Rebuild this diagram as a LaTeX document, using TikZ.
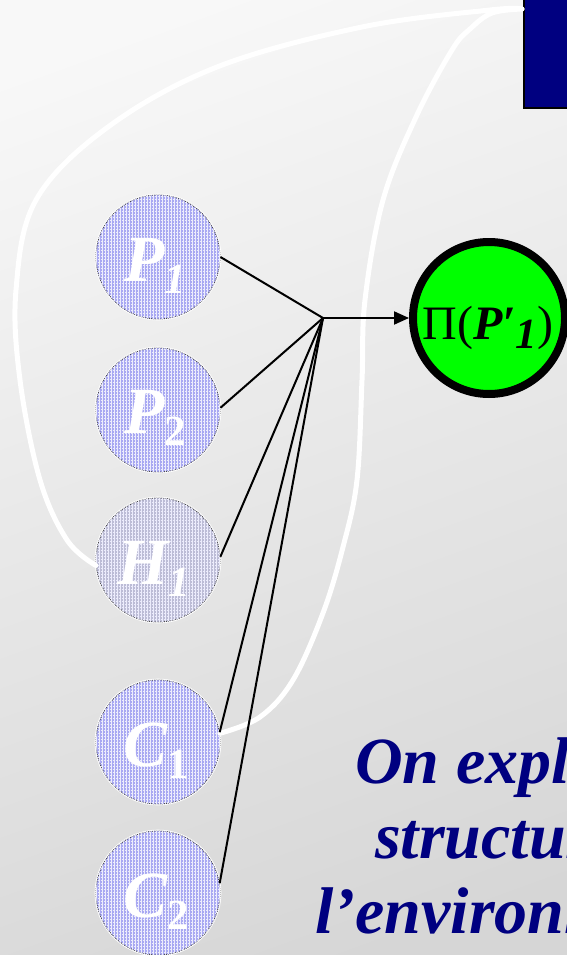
\documentclass[tikz,border=0pt]{standalone}
\usepackage{fontspec}
\setmainfont{Liberation Serif}
\usetikzlibrary{arrows.meta,patterns.meta}
\definecolor{navyc}{RGB}{0,0,128}
\definecolor{pfill}{RGB}{168,168,242}
\definecolor{hfill}{RGB}{188,188,214}
\definecolor{gridc}{RGB}{236,236,252}
\definecolor{gfill}{RGB}{0,255,0}
\definecolor{bgtop}{RGB}{248,248,248}
\definecolor{bgbot}{RGB}{214,214,214}
\newcommand\clab[2]{{\fontsize{66}{66}\selectfont\bfseries\itshape #1}\raisebox{-12pt}{\fontsize{43}{43}\selectfont\bfseries #2}}
\begin{document}
\begin{tikzpicture}[x=1pt,y=-1pt,
  inp/.style={circle, minimum size=124pt, inner sep=0pt, fill=#1,
    draw=gray!60!black, densely dotted, line width=0.9pt,
    preaction={draw=white, solid, line width=2.6pt},
    postaction={pattern={Hatch[distance=3pt,line width=0.5pt]}, pattern color=gridc}},
  inp/.default=pfill,
  lab/.style={text=white, inner sep=0pt, anchor=base},
  conn/.style={draw=black, line width=2pt},
  wcurve/.style={draw=white, line width=5pt, line cap=round},
  greenc/.style={circle, draw=black, fill=gfill, line width=8pt, minimum size=152pt, inner sep=0pt},
  bigtxt/.style={text=navyc, inner sep=0pt, anchor=base west, font=\fontsize{66}{75}\selectfont\bfseries\itshape}
]
\useasboundingbox (0,0) rectangle (567,955);
\clip (0,0) rectangle (567,955);
\shade[top color=bgtop, bottom color=bgbot, shading angle=20] (-50,-50) rectangle (620,1010);

% title box (top right)
\node[draw=black, fill=navyc, line width=2pt, minimum width=70pt, minimum height=112pt,
      anchor=north west, inner sep=0pt] (B) at (523,-5) {};
\coordinate (S) at (522,9);

% input circles
\node[inp] (P1) at (158,257) {};
\node[inp] (P2) at (158,410) {};
\node[inp=hfill] (H1) at (158,560) {};
\node[inp] (C1) at (158,742) {};
\node[inp] (C2) at (158,893) {};

\node[lab] (P1t) at (155,281) {\clab{P}{\itshape 1}};
\node[lab] (P2t) at (155,433) {\clab{P}{2}};
\node[lab] (H1t) at (154,584) {\clab{H}{\itshape 1}};
\node[lab] (C1t) at (156,766) {\clab{C}{1}};
\node[lab] (C2t) at (156,917) {\clab{C}{2}};

% white curves
\draw[wcurve] plot[smooth, tension=0.6] coordinates {(S) (490,10) (362,27) (217,67) (108,127) (36,200) (16,290) (20,380) (40,480) (67,540) (H1.185)};
\draw[wcurve] plot[smooth, tension=0.6] coordinates {(S) (492,13) (470,29) (452,50) (416,117) (383,200) (365,300) (362,380) (357,480) (343,547) (323,613) (293,680) (260,717) (C1.8)};

% junction and connectors
\coordinate (J) at (323,318);
\draw[conn] (J) -- (P1.0);
\draw[conn] (J) -- (P2.2);
\draw[conn] (J) -- (H1.3);
\draw[conn] (J) -- (C1.9);
\draw[conn] (J) -- (C2.9);

% output node
\node[greenc] (G) at (489,318) {};
\node[inner sep=0pt, anchor=base] (Gt) at (488,339)
  {{\fontsize{48}{48}\selectfont Π(}{\fontsize{48}{48}\selectfont\bfseries\itshape P′}\raisebox{-9pt}{\fontsize{43}{43}\selectfont\bfseries\itshape 1}{\fontsize{48}{48}\selectfont )}};
\draw[line width=2pt, -{Triangle[length=15pt,width=13pt]}] (J) -- (G.west);

% caption text
\node[bigtxt] (T1) at (355,783) {On explo};
\node[bigtxt] (T2) at (375,858) {structur};
\node[bigtxt] (T3) at (315,933) {l’environn};
\end{tikzpicture}
\end{document}
